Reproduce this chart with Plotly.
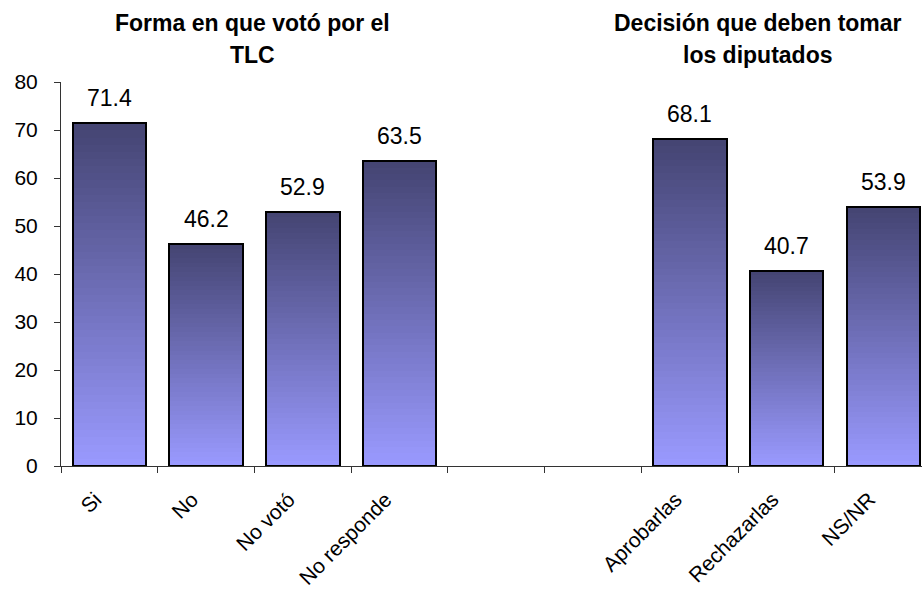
import plotly.graph_objects as go

# Categories (two empty slots separate the two question groups)
categories = ["Si", "No", "No votó", "No responde", " ", "  ", "Aprobarlas", "Rechazarlas", "NS/NR"]
values = [71.4, 46.2, 52.9, 63.5, None, None, 68.1, 40.7, 53.9]
group_titles = [("Forma en que votó por el", "TLC"), ("Decisión que deben tomar", "los diputados")]
y_ticks = [0, 10, 20, 30, 40, 50, 60, 70, 80]

FONT = "Liberation Sans, Arial, sans-serif"
TOP_RGB = (68, 68, 114)
BOTTOM_RGB = (154, 154, 255)
N_STEPS = 48
BAR_WIDTH = 0.76

fig = go.Figure()

# Vertical gradient fill: each bar is split into equal slices, dark at the top, light at the bottom
for k in range(N_STEPS):
    t = (k + 0.5) / N_STEPS  # 0 = bottom, 1 = top
    rgb = tuple(round(BOTTOM_RGB[i] + (TOP_RGB[i] - BOTTOM_RGB[i]) * t) for i in range(3))
    seg = [v / N_STEPS if v is not None else None for v in values]
    base = [v * k / N_STEPS if v is not None else None for v in values]
    fig.add_trace(go.Bar(
        x=categories, y=seg, base=base, width=BAR_WIDTH,
        marker=dict(color="rgb(%d,%d,%d)" % rgb, line=dict(width=0)),
        hoverinfo="skip", showlegend=False,
    ))

# Black outline over each full bar
fig.add_trace(go.Bar(
    x=categories, y=values, width=BAR_WIDTH,
    marker=dict(color="rgba(0,0,0,0)", line=dict(color="black", width=2)),
    showlegend=False,
))

# Value labels above the bars
for c, v in zip(categories, values):
    if v is None:
        continue
    fig.add_annotation(
        x=c, y=v, text=f"{v:.1f}", showarrow=False,
        yanchor="middle", yshift=25,
        font=dict(family=FONT, size=23, color="black"),
    )

# Group titles (two lines each)
title_x = [252, 758]
W, H = 922, 590
L, R, T, B = 61, 0, 82, 124
for (line1, line2), px in zip(group_titles, title_x):
    xf = (px - L) / (W - L - R)
    for txt, py in ((line1, 23), (line2, 55)):
        yf = 1 + (T - py) / (H - T - B)
        fig.add_annotation(
            x=xf, y=yf, xref="paper", yref="paper", text=f"<b>{txt}</b>",
            showarrow=False, xanchor="center", yanchor="middle",
            font=dict(family=FONT, size=23, color="black"),
        )

fig.update_layout(
    width=W, height=H,
    margin=dict(l=L, r=R, t=T, b=B, pad=0),
    barmode="overlay", bargap=0,
    plot_bgcolor="white", paper_bgcolor="white",
    font=dict(family=FONT, color="black"),
)
fig.update_xaxes(
    type="category", categoryorder="array", categoryarray=categories,
    range=[-0.5, 8.4],
    showline=True, linecolor="#333333", linewidth=1,
    ticks="outside", tickson="boundaries", ticklen=6, tickcolor="#333333",
    tickangle=-45, tickfont=dict(family=FONT, size=21, color="black"),
    ticklabelstandoff=12, ticklabelshift=-14,
    showgrid=False, zeroline=False,
)
fig.update_yaxes(
    range=[0, 80], tickvals=y_ticks, ticktext=[str(t) for t in y_ticks],
    showline=True, linecolor="#333333", linewidth=1,
    ticks="outside", ticklen=6, tickcolor="#333333", ticklabelstandoff=12,
    tickfont=dict(family=FONT, size=21, color="black"),
    showgrid=False, zeroline=False,
)

fig.write_html("out.html")
